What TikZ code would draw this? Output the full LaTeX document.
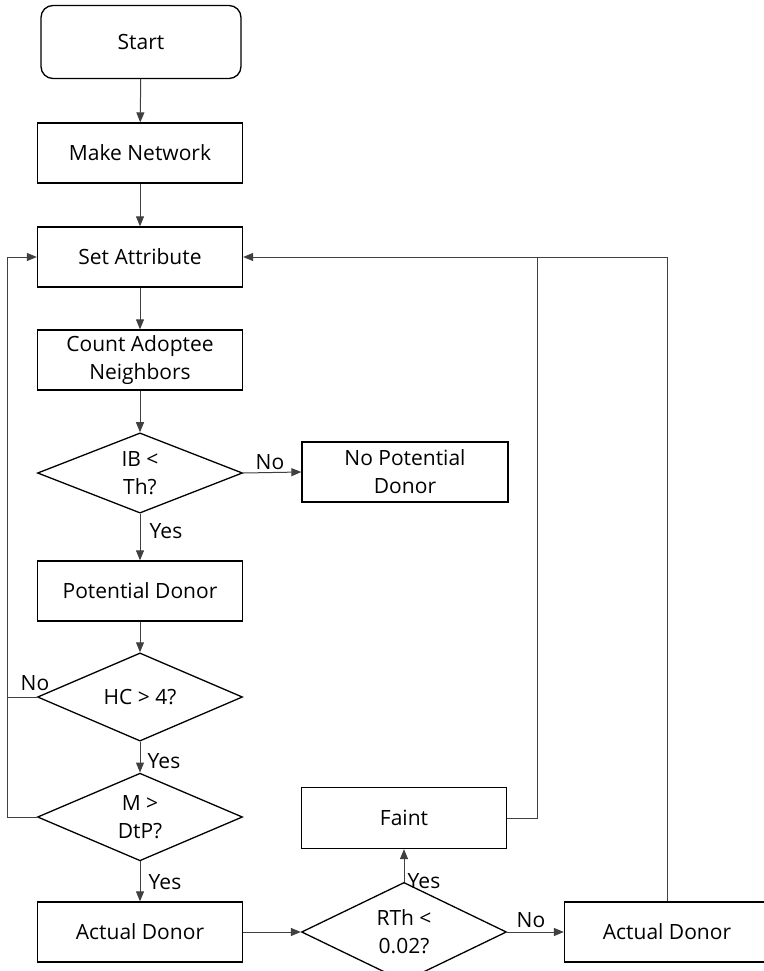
\documentclass[tikz,border=0pt]{standalone}
\usepackage{fontspec}
\setmainfont{Open Sans}
\usetikzlibrary{arrows.meta,shapes.geometric}
\begin{document}
\begin{tikzpicture}[x=1pt,y=-1pt,
  font=\fontsize{21}{28}\selectfont,
  box/.style={draw=black,line width=1.3pt,minimum width=205pt,minimum height=60pt,
    inner sep=0pt,align=center},
  startbox/.style={box,rounded corners=12pt,minimum width=200pt,minimum height=73pt},
  decision/.style={draw=black,line width=1.3pt,shape=diamond,minimum width=205pt,
    minimum height=76pt,inner sep=0pt,align=center},
  conn/.style={draw=black!75,line width=1pt},
  arr/.style={conn,-{Triangle[length=10pt,width=8pt]}},
  lbl/.style={inner sep=0pt}]
\useasboundingbox (0,0) rectangle (763,971);

% process steps
\node[startbox] (start) at (141,42) {Start};
\node[box] (make) at (140,153) {Make Network};
\node[box] (set) at (140,257) {Set Attribute};
\node[box] (count) at (140,360) {Count Adoptee\\Neighbors};
\node[decision] (ib) at (140,473) {IB <\\Th?};
\node[box,minimum width=206pt] (nopd) at (405,472) {No Potential\\Donor};
\node[box] (pd) at (140,591) {Potential Donor};
\node[decision] (hc) at (140,697) {HC > 4?};
\node[decision] (m) at (140,817) {M >\\DtP?};
\node[box] (ad) at (140,932) {Actual Donor};
\node[decision] (rth) at (404,932) {RTh <\\0.02?};
\node[box,minimum height=61pt] (faint) at (404,818) {Faint};
\node[box] (ad2) at (667,932) {Actual Donor};

% loop-back corners
\coordinate (lhc) at (7,697);
\coordinate (lm) at (7,817);
\coordinate (lset) at (7,257);
\coordinate (rf) at (537,818);
\coordinate (rftop) at (537,257);
\coordinate (rtop) at (667,257);

% main flow
\draw[arr] (start) -- (make);
\draw[arr] (make) -- (set);
\draw[arr] (set) -- (count);
\draw[arr] (count) -- (ib);
\draw[arr] (ib.east) -- (nopd.west);
\draw[arr] (ib.south) -- (pd.north);
\draw[arr] (pd) -- (hc);
\draw[arr] (hc.south) -- (m.north);
\draw[arr] (m.south) -- (ad.north);
\draw[arr] (ad.east) -- (rth.west);
\draw[arr] (rth.east) -- (ad2.west);
\draw[arr] (rth.north) -- (faint.south);

% returns to Set Attribute
\draw[arr] (hc.west) -- (lhc) -- (lset) -- (set.west);
\draw[conn] (m.west) -- (lm) -- (lhc);
\draw[conn] (faint.east) -- (rf) -- (rftop);
\draw[arr] (ad2.north) -- (rtop) -- (set.east);

% branch labels
\node[lbl] (noib) at (270,462) {No};
\node[lbl] (yesib) at (166,531) {Yes};
\node[lbl] (nohc) at (35,683) {No};
\node[lbl] (yeshc) at (164,761) {Yes};
\node[lbl] (yesm) at (165,882) {Yes};
\node[lbl] (yesr) at (424,881) {Yes};
\node[lbl] (nor) at (531,920) {No};
\end{tikzpicture}
\end{document}
